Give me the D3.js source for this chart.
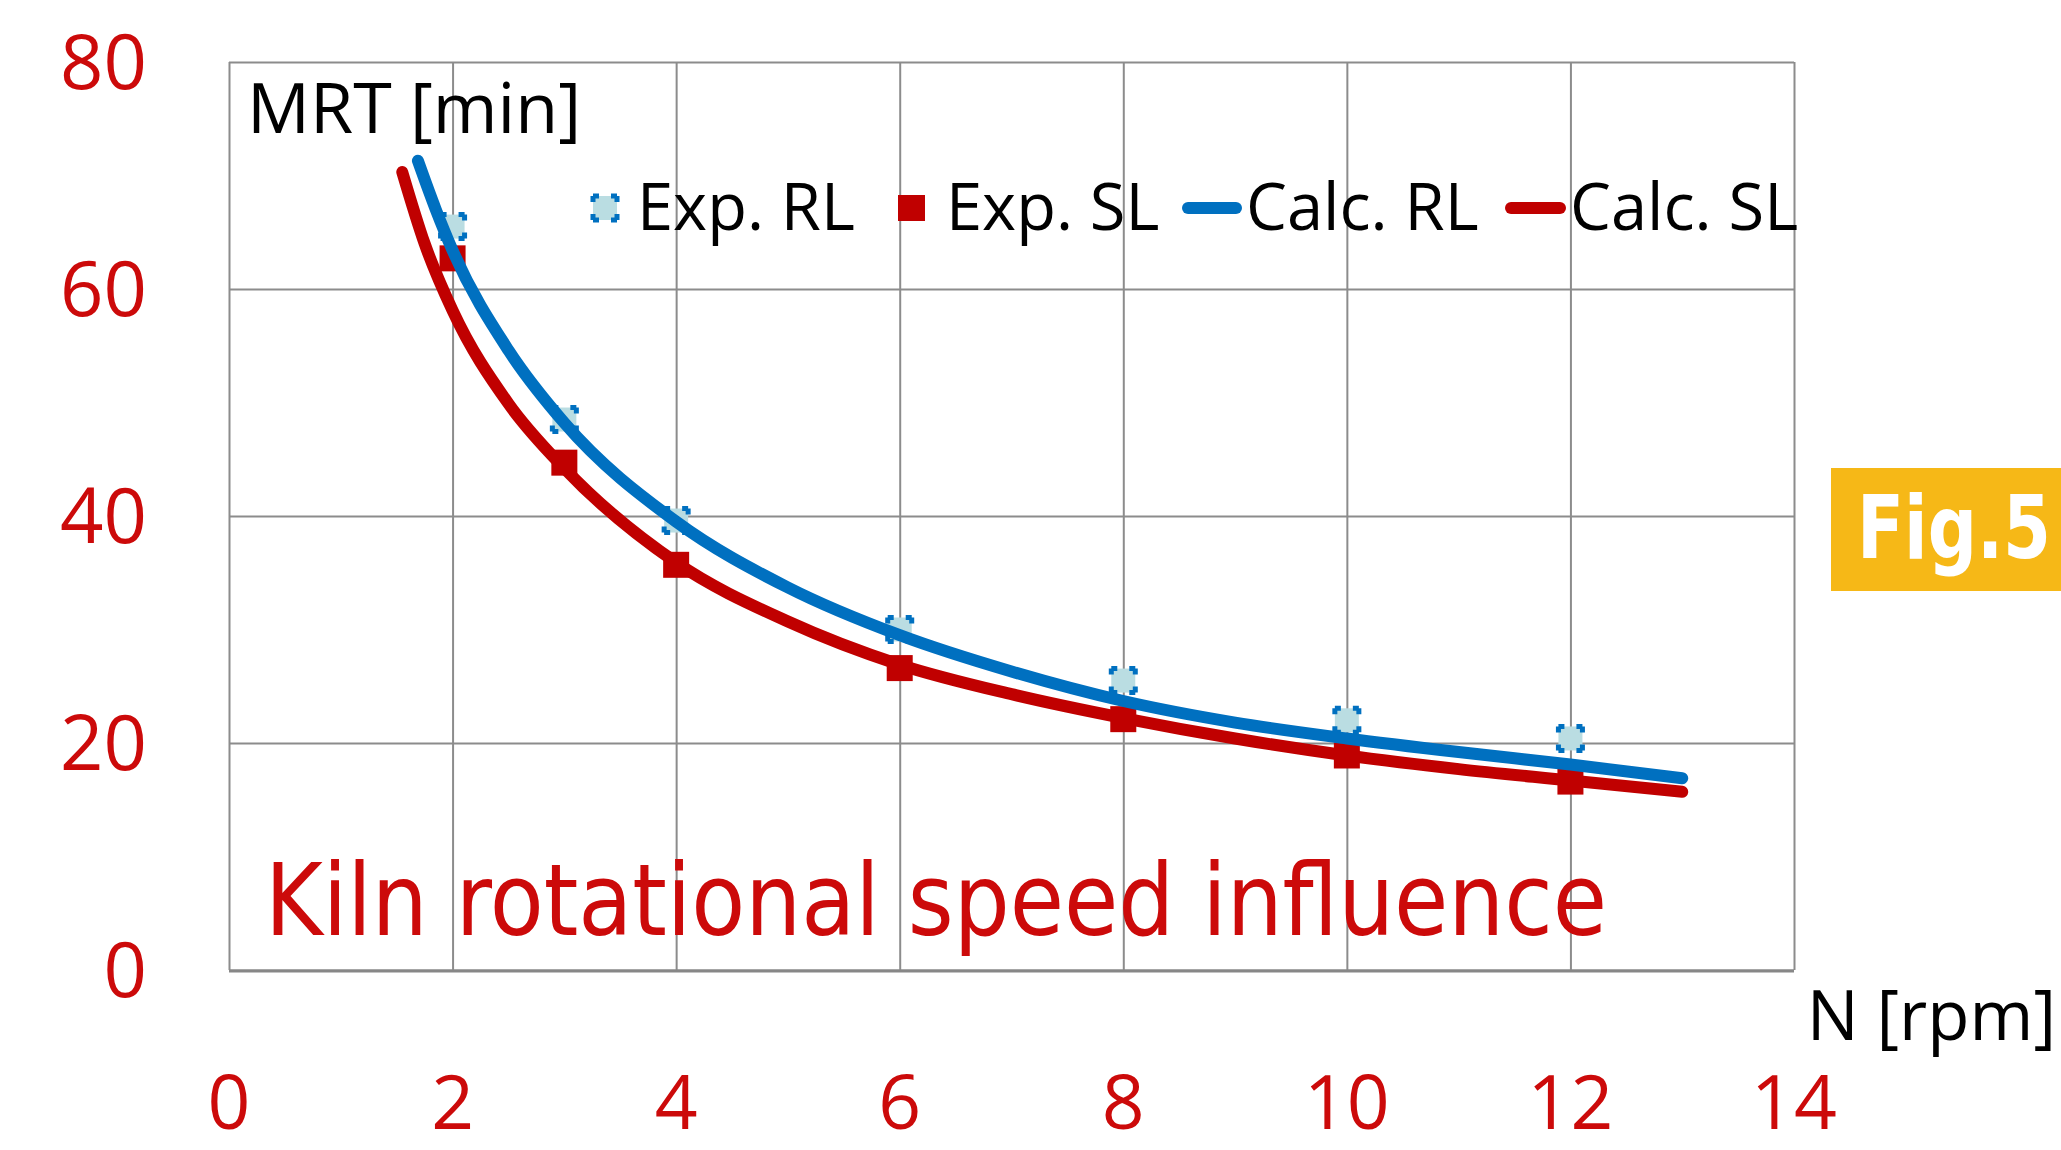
<html lang="en">
<head>
    <meta charset="UTF-8">
    <title>Kiln rotational speed influence</title>
    <style>
        html, body { margin: 0; padding: 0; background: #ffffff; }
        svg { display: block; }
    </style>
</head>
<body>
<div class="chart"></div>

<script src="https://d3js.org/d3.v7.min.js"></script>
<script>
    // values
    const xTicks = [0, 2, 4, 6, 8, 10, 12, 14]
    const yTicks = [0, 20, 40, 60, 80]

    const expN = [2, 3, 4, 6, 8, 10, 12]
    const expRL = [65.5, 48.5, 39.6, 30.0, 25.5, 22.0, 20.4]
    const expSL = [62.7, 44.7, 35.7, 26.6, 22.1, 18.9, 16.6]

    const calcRLN = [1.69, 1.85, 2, 2.5, 3, 4, 5, 6, 7, 8, 9, 10, 11, 12, 13]
    const calcRL = [71.3, 67.0, 63.4, 54.6, 48.2, 39.5, 33.7, 29.5, 26.3, 23.7, 21.8, 20.4, 19.2, 18.1, 16.9]
    const calcSLN = [1.55, 1.75, 2, 2.5, 3, 4, 5, 6, 7, 8, 9, 10, 11, 12, 13]
    const calcSL = [70.3, 64.0, 58.1, 49.9, 44.2, 35.9, 30.7, 26.9, 24.3, 22.2, 20.4, 18.9, 17.7, 16.7, 15.7]

    const legendLabels = ['Exp. RL', 'Exp. SL', 'Calc. RL', 'Calc. SL']

    let dimensions = {
        width: 2061,
        height: 1150,
        left: 229,
        right: 1794,
        top: 62,
        bottom: 970
    }
    const red = '#c00000'
    const labelRed = '#cc0a0a'
    const blue = '#0070c0'
    const gridGray = '#8c8c8c'
    const font = '"Open Sans", "Noto Sans", sans-serif'

    const svg = d3.select('.chart')
        .append('svg')
        .attr('width', dimensions.width)
        .attr('height', dimensions.height)

    svg.append('rect')
        .attr('width', dimensions.width)
        .attr('height', dimensions.height)
        .attr('fill', '#ffffff')

    const xScale = d3.scaleLinear()
        .domain([0, 14])
        .range([dimensions.left, dimensions.right])
    const yScale = d3.scaleLinear()
        .domain([0, 80])
        .range([dimensions.bottom, dimensions.top])

    // plot area
    svg.append('rect')
        .attr('x', dimensions.left)
        .attr('y', dimensions.top)
        .attr('width', dimensions.right - dimensions.left)
        .attr('height', dimensions.bottom - dimensions.top)
        .attr('fill', '#ffffff')

    // grid
    const xGrid = d3.axisBottom(xScale)
        .tickValues(xTicks)
        .tickSize(-(dimensions.bottom - dimensions.top))
        .tickFormat('')
    svg.append('g')
        .attr('transform', 'translate(0,' + dimensions.bottom + ')')
        .call(xGrid)
        .call(g => g.select('.domain').remove())
        .selectAll('line')
        .attr('stroke', gridGray)
        .attr('stroke-width', 2)

    const yGrid = d3.axisLeft(yScale)
        .tickValues(yTicks)
        .tickSize(-(dimensions.right - dimensions.left))
        .tickFormat('')
    svg.append('g')
        .attr('transform', 'translate(' + dimensions.left + ',0)')
        .call(yGrid)
        .call(g => g.select('.domain').remove())
        .selectAll('line')
        .attr('stroke', gridGray)
        .attr('stroke-width', 2)

    // bottom axis line a bit heavier
    svg.append('line')
        .attr('x1', dimensions.left)
        .attr('x2', dimensions.right)
        .attr('y1', yScale(0) + 1)
        .attr('y2', yScale(0) + 1)
        .attr('stroke', '#878787')
        .attr('stroke-width', 3)

    // Y tick labels
    svg.append('g')
        .selectAll('text')
        .data(yTicks)
        .enter()
        .append('text')
        .attr('x', 147)
        .attr('y', d => yScale(d))
        .attr('dy', '0.36em')
        .attr('text-anchor', 'end')
        .attr('font-family', font)
        .attr('font-size', 76)
        .attr('fill', labelRed)
        .text(d => d)

    // X tick labels
    svg.append('g')
        .selectAll('text')
        .data(xTicks)
        .enter()
        .append('text')
        .attr('x', d => xScale(d))
        .attr('y', 1129)
        .attr('text-anchor', 'middle')
        .attr('font-family', font)
        .attr('font-size', 75)
        .attr('fill', labelRed)
        .text(d => d)

    // axis titles
    svg.append('text')
        .attr('x', 247)
        .attr('y', 133)
        .attr('font-family', font)
        .attr('font-size', 70)
        .attr('fill', '#000000')
        .text('MRT [min]')
    svg.append('text')
        .attr('x', 2056)
        .attr('y', 1040)
        .attr('text-anchor', 'end')
        .attr('font-family', font)
        .attr('font-size', 69)
        .attr('fill', '#000000')
        .text('N [rpm]')

    // markers
    const markerSize = 24
    const rlMarker = (sel) => sel
        .attr('d', 'M0,0h' + markerSize + 'v' + markerSize + 'h' + (-markerSize) + 'z')
        .attr('fill', '#badde2')
        .attr('stroke', blue)
        .attr('stroke-width', 5)
        .attr('stroke-dasharray', '6,12,6,0')

    svg.append('g')
        .selectAll('path')
        .data(expN)
        .enter()
        .append('path')
        .attr('transform', (d, i) => 'translate(' + (xScale(d) - markerSize / 2) + ',' + (yScale(expRL[i]) - markerSize / 2) + ')')
        .call(rlMarker)

    svg.append('g')
        .selectAll('rect')
        .data(expN)
        .enter()
        .append('rect')
        .attr('x', d => xScale(d) - 13)
        .attr('y', (d, i) => yScale(expSL[i]) - 13)
        .attr('width', 26)
        .attr('height', 26)
        .attr('fill', red)

    // calculated curves
    const line = d3.line()
        .x(d => xScale(d[0]))
        .y(d => yScale(d[1]))
        .curve(d3.curveMonotoneX)

    svg.append('path')
        .datum(calcSLN.map((n, i) => [n, calcSL[i]]))
        .attr('d', line)
        .attr('fill', 'none')
        .attr('stroke', red)
        .attr('stroke-width', 12)
        .attr('stroke-linecap', 'round')
    svg.append('path')
        .datum(calcRLN.map((n, i) => [n, calcRL[i]]))
        .attr('d', line)
        .attr('fill', 'none')
        .attr('stroke', blue)
        .attr('stroke-width', 12)
        .attr('stroke-linecap', 'round')

    // legend
    const legendY = 208
    const legendTextX = [637, 946, 1246, 1570]
    const legend = svg.append('g')
    legend.append('path')
        .attr('transform', 'translate(593,' + (legendY - markerSize / 2) + ')')
        .call(rlMarker)
    legend.append('rect')
        .attr('x', 898)
        .attr('y', legendY - 13)
        .attr('width', 27)
        .attr('height', 26)
        .attr('fill', red)
    legend.append('line')
        .attr('x1', 1188).attr('x2', 1236)
        .attr('y1', legendY).attr('y2', legendY)
        .attr('stroke', blue)
        .attr('stroke-width', 12)
        .attr('stroke-linecap', 'round')
    legend.append('line')
        .attr('x1', 1511).attr('x2', 1560)
        .attr('y1', legendY).attr('y2', legendY)
        .attr('stroke', red)
        .attr('stroke-width', 12)
        .attr('stroke-linecap', 'round')
    legend.selectAll('text')
        .data(legendLabels)
        .enter()
        .append('text')
        .attr('x', (d, i) => legendTextX[i])
        .attr('y', 230)
        .attr('font-family', font)
        .attr('font-size', 65)
        .attr('fill', '#000000')
        .text(d => d)

    // caption inside the plot
    svg.append('text')
        .attr('x', 265)
        .attr('y', 935)
        .attr('font-family', '"Comic Sans MS", "DejaVu Sans Condensed", "DejaVu Sans", sans-serif')
        .attr('font-size', 100)
        .attr('fill', labelRed)
        .attr('textLength', 1342)
        .attr('lengthAdjust', 'spacingAndGlyphs')
        .text('Kiln rotational speed influence')

    // Fig.5 tag
    svg.append('rect')
        .attr('x', 1831)
        .attr('y', 468)
        .attr('width', 240)
        .attr('height', 123)
        .attr('fill', '#f6b817')
    svg.append('text')
        .attr('x', 1857)
        .attr('y', 558)
        .attr('font-family', '"Comic Sans MS", "DejaVu Sans", sans-serif')
        .attr('font-weight', 'bold')
        .attr('font-size', 88)
        .attr('fill', '#ffffff')
        .attr('textLength', 194)
        .attr('lengthAdjust', 'spacingAndGlyphs')
        .text('Fig.5')
</script>

</body>
</html>
